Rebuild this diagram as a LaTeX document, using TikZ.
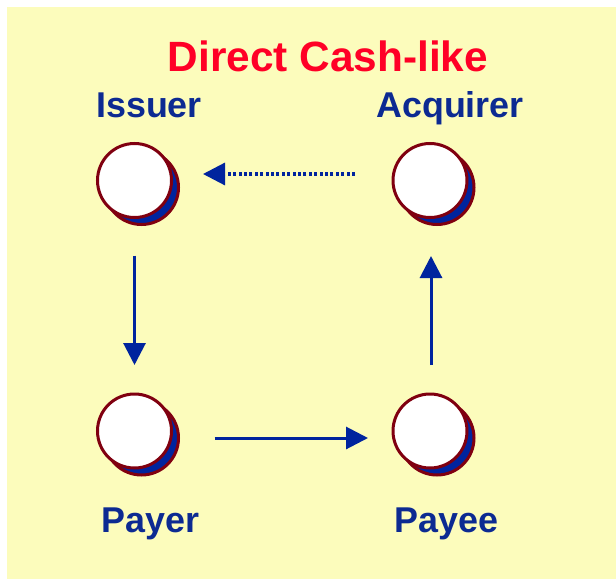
\documentclass[tikz,border=0pt]{standalone}
\usepackage{fontspec}
\setmainfont{Liberation Sans}
\usetikzlibrary{arrows.meta,shadows}

\definecolor{paper}{RGB}{252,252,188}
\definecolor{flowblue}{RGB}{0,36,158}
\definecolor{labelblue}{RGB}{12,42,146}
\definecolor{titlered}{RGB}{255,0,38}
\definecolor{rimred}{RGB}{128,0,16}

\tikzset{
  party/.style={circle, minimum size=74bp, inner sep=0pt, outer sep=0pt,
    draw=rimred, line width=3bp, fill=white,
    copy shadow={shadow xshift=7bp, shadow yshift=-7bp, fill=flowblue, draw=rimred, line width=3bp}},
  partylabel/.style={anchor=base, text=labelblue, font=\bfseries\fontsize{36}{40}\selectfont, inner sep=0pt},
  flow/.style={draw=flowblue, line width=3bp, -{Triangle[length=22bp,width=22bp]}},
  dotflow/.style={flow, line width=3.2bp, dash pattern=on 3bp off 2.4bp}
}

\begin{document}
\begin{tikzpicture}[x=1bp, y=-1bp]
  % canvas and backdrop
  \useasboundingbox (0,0) rectangle (616,579);
  \fill[paper] (7,7) rectangle (616,579);

  % title
  \node[anchor=base, inner sep=0pt, text=titlered, font=\bfseries\fontsize{42.5}{47}\selectfont] (title) at (328,72) {Direct Cash-like};

  % the four parties
  \node[party] (iss) at (134.5,180.5) {};
  \node[party] (acq) at (430,180.5) {};
  \node[party] (pyr) at (134.5,431) {};
  \node[party] (pye) at (430,431) {};

  \node[partylabel] (issl) at (149,118) {Issuer};
  \node[partylabel] (acql) at (450,118) {Acquirer};
  \node[partylabel] (pyrl) at (150.5,532) {Payer};
  \node[partylabel] (pyel) at (446.5,532) {Payee};

  % flows between the parties
  \draw[flow, shorten <=38bp, shorten >=29bp] (iss.south) -- (pyr.north);
  \draw[flow, shorten <=43bp, shorten >=25bp] ([yshift=-7bp]pyr.east) -- ([yshift=-7bp]pye.west);
  \draw[flow, shorten <=29bp, shorten >=38.5bp] ([xshift=1bp]pye.north) -- ([xshift=1bp]acq.south);
  \draw[dotflow, shorten <=38bp, shorten >=31.5bp] ([yshift=6.5bp]acq.west) -- ([yshift=6.5bp]iss.east);
\end{tikzpicture}
\end{document}
